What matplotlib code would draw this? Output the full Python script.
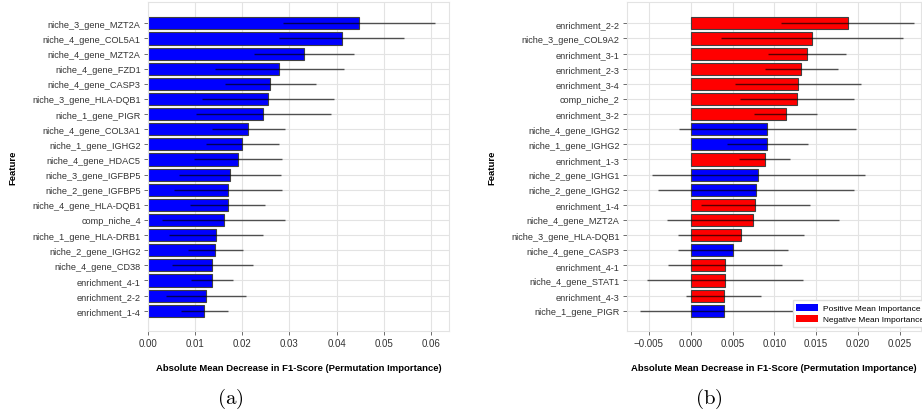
import matplotlib
matplotlib.use("Agg")
import matplotlib.pyplot as plt
from matplotlib.patches import Patch

# ---------------- data ----------------
left_features = [
    "niche_3_gene_MZT2A", "niche_4_gene_COL5A1", "niche_4_gene_MZT2A", "niche_4_gene_FZD1",
    "niche_4_gene_CASP3", "niche_3_gene_HLA-DQB1", "niche_1_gene_PIGR", "niche_4_gene_COL3A1",
    "niche_1_gene_IGHG2", "niche_4_gene_HDAC5", "niche_3_gene_IGFBP5", "niche_2_gene_IGFBP5",
    "niche_4_gene_HLA-DQB1", "comp_niche_4", "niche_1_gene_HLA-DRB1", "niche_2_gene_IGHG2",
    "niche_4_gene_CD38", "enrichment_4-1", "enrichment_2-2", "enrichment_1-4",
]
left_values = [0.0447, 0.0411, 0.0331, 0.0279, 0.0260, 0.0254, 0.0245, 0.0213, 0.0200, 0.0192,
               0.0175, 0.0170, 0.0169, 0.0161, 0.0145, 0.0143, 0.0137, 0.0136, 0.0123, 0.0120]
left_errors = [0.0161, 0.0132, 0.0105, 0.0136, 0.0096, 0.0140, 0.0143, 0.0077, 0.0077, 0.0093,
               0.0108, 0.0115, 0.0079, 0.0130, 0.0099, 0.0058, 0.0086, 0.0045, 0.0085, 0.0049]
left_signs = ["Positive"] * 20

right_features = [
    "enrichment_2-2", "niche_3_gene_COL9A2", "enrichment_3-1", "enrichment_2-3", "enrichment_3-4",
    "comp_niche_2", "enrichment_3-2", "niche_4_gene_IGHG2", "niche_1_gene_IGHG2", "enrichment_1-3",
    "niche_2_gene_IGHG1", "niche_2_gene_IGHG2", "enrichment_1-4", "niche_4_gene_MZT2A",
    "niche_3_gene_HLA-DQB1", "niche_4_gene_CASP3", "enrichment_4-1", "niche_4_gene_STAT1",
    "enrichment_4-3", "niche_1_gene_PIGR",
]
right_values = [0.01878, 0.01455, 0.01388, 0.01324, 0.01280, 0.01268, 0.01136, 0.00917, 0.00917,
                0.00885, 0.00810, 0.00778, 0.00770, 0.00746, 0.00602, 0.00506, 0.00411, 0.00407,
                0.00395, 0.00395]
right_errors = [0.00797, 0.01090, 0.00467, 0.00439, 0.00754, 0.00680, 0.00379, 0.01059, 0.00486,
                0.00305, 0.01276, 0.01172, 0.00652, 0.01025, 0.00750, 0.00662, 0.00684, 0.00935,
                0.00449, 0.01000]
right_signs = ["Negative", "Negative", "Negative", "Negative", "Negative", "Negative", "Negative",
               "Positive", "Positive", "Negative", "Positive", "Positive", "Negative", "Negative",
               "Negative", "Positive", "Negative", "Negative", "Negative", "Positive"]

left_ticks = [0.00, 0.01, 0.02, 0.03, 0.04, 0.05, 0.06]
left_ticklabels = ["0.00", "0.01", "0.02", "0.03", "0.04", "0.05", "0.06"]
right_ticks = [-0.005, 0.000, 0.005, 0.010, 0.015, 0.020, 0.025]
right_ticklabels = ["\u22120.005", "0.000", "0.005", "0.010", "0.015", "0.020", "0.025"]

xlabel = "Absolute Mean Decrease in F1-Score (Permutation Importance)"
ylabel = "Feature"
captions = ["(a)", "(b)"]
sign_colors = {"Positive": "#0000FF", "Negative": "#FF0000"}
legend_labels = ["Positive Mean Importance", "Negative Mean Importance"]

# ---------------- style ----------------
plt.rcParams["font.family"] = ["Liberation Sans", "DejaVu Sans"]
plt.rcParams["mathtext.fontset"] = "cm"

fig = plt.figure(figsize=(9.22, 4.14), dpi=100)
W, H = 922, 414

def px_axes(x0, x1, y0, y1):
    return fig.add_axes([x0 / W, 1 - y1 / H, (x1 - x0) / W, (y1 - y0) / H])

ax_l = px_axes(147.7, 449, 3, 332)
ax_r = px_axes(626.7, 921, 3, 332)

def draw(ax, feats, vals, errs, signs, xlim, ticks, ticklabels, ylab_x):
    n = len(feats)
    y = list(range(n))
    colors = [sign_colors[s] for s in signs]
    ax.set_axisbelow(True)
    ax.barh(y, vals, height=0.8, color=colors, edgecolor="#404040", linewidth=0.8, zorder=2)
    ax.errorbar(vals, y, xerr=errs, fmt="none", ecolor="black", elinewidth=1.0,
                alpha=0.65, capsize=0, zorder=3)
    ax.set_yticks(y)
    ax.set_yticklabels(feats, fontsize=6.6, color="#333333")
    ax.set_ylim(n - 1 + 1.34, -1.41)
    ax.set_xlim(*xlim)
    ax.set_xticks(ticks)
    ax.set_xticklabels(ticklabels, fontsize=7.0, color="#333333")
    ax.grid(True, color="#e3e3e3", linewidth=0.8)
    for sp in ax.spines.values():
        sp.set_color("#e3e3e3")
        sp.set_linewidth(0.8)
    ax.tick_params(axis="both", length=3, width=0.6, color="#555555", pad=2)
    ax.set_xlabel(xlabel, fontsize=6.8, fontweight="bold", labelpad=11)
    ax.set_ylabel(ylabel, fontsize=6.8, fontweight="bold")
    ax.yaxis.set_label_coords(ylab_x, 0.5)

draw(ax_l, left_features, left_values, left_errors, left_signs,
     (0, 0.0638), left_ticks, left_ticklabels, (17 - 147.7) / 301.3)
draw(ax_r, right_features, right_values, right_errors, right_signs,
     (-0.00766, 0.02755), right_ticks, right_ticklabels, (496 - 626.7) / 294.3)

handles = [Patch(facecolor=sign_colors["Positive"]), Patch(facecolor=sign_colors["Negative"])]
fig.legend(handles, legend_labels, loc="lower left",
           bbox_to_anchor=(792.7 / W, 1 - 327.5 / H), fontsize=6.0, frameon=True,
           framealpha=1.0, edgecolor="#dddddd", fancybox=False, borderpad=0.4,
           handlelength=2.6, handleheight=0.9, labelspacing=0.35, borderaxespad=0.0,
           handletextpad=0.6)

fig.text(230 / W, 1 - 399 / H, r"$\mathrm{(a)}$", fontsize=15, ha="center", va="center")
fig.text(709 / W, 1 - 399 / H, r"$\mathrm{(b)}$", fontsize=15, ha="center", va="center")

fig.savefig("out.png", dpi=100)
